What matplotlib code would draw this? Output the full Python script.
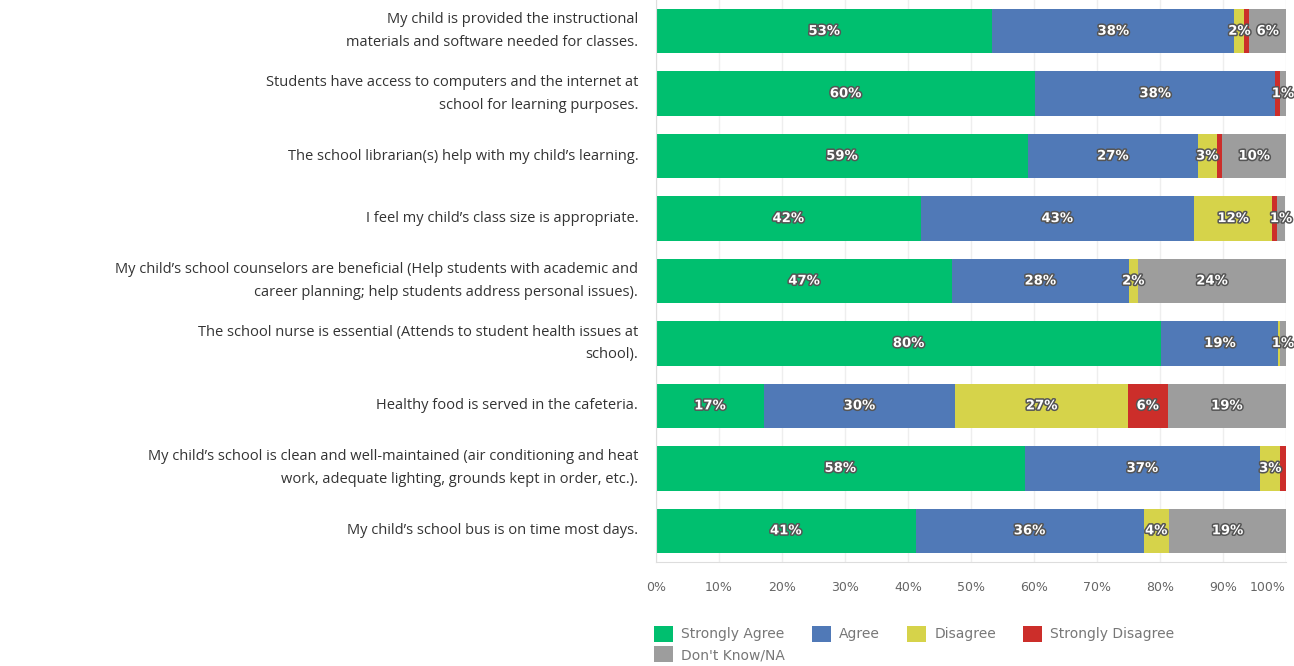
import matplotlib
matplotlib.use('Agg')
import matplotlib.pyplot as plt
import matplotlib.patheffects as pe
from matplotlib.patches import Patch

questions = [
    'My child is provided the instructional\nmaterials and software needed for classes.',
    'Students have access to computers and the internet at\nschool for learning purposes.',
    'The school librarian(s) help with my child\u2019s learning.',
    'I feel my child\u2019s class size is appropriate.',
    'My child\u2019s school counselors are beneficial (Help students with academic and\ncareer planning; help students address personal issues).',
    'The school nurse is essential (Attends to student health issues at\nschool).',
    'Healthy food is served in the cafeteria.',
    'My child\u2019s school is clean and well-maintained (air conditioning and heat\nwork, adequate lighting, grounds kept in order, etc.).',
    'My child\u2019s school bus is on time most days.',
]

categories = ['Strongly Agree', 'Agree', 'Disagree', 'Strongly Disagree', 'Don\'t Know/NA']

strongly_agree = [53.4, 60.2, 59.0, 42.0, 47.0, 80.2, 17.1, 58.5, 41.2]
agree = [38.4, 38.1, 27.0, 43.4, 28.0, 18.6, 30.4, 37.4, 36.2]
disagree = [1.6, 0.0, 3.0, 12.4, 1.5, 0.2, 27.4, 3.2, 4.0]
strongly_disagree = [0.8, 0.7, 0.9, 0.7, 0.0, 0.0, 6.3, 0.9, 0.0]
dont_know = [5.8, 1.0, 10.1, 1.4, 23.5, 1.0, 18.8, 0.0, 18.6]

colors = ['#00bf6f', '#5079b7', '#d6d34a', '#cc2e2a', '#9d9d9d']

ticks = list(range(0, 101, 10))
tick_labels = ['{}%'.format(t) for t in ticks]

series = [strongly_agree, agree, disagree, strongly_disagree, dont_know]

fig = plt.figure(figsize=(12.94, 6.66), dpi=100)
ax = fig.add_axes([656 / 1294, 104 / 666, 630 / 1294, 562 / 666])

y = list(range(len(questions)))
left = [0.0] * len(questions)
for vals, col, name in zip(series, colors, categories):
    ax.barh(y, vals, left=left, height=0.71, color=col, label=name, zorder=2)
    for i, v in enumerate(vals):
        if v >= 1.0:
            ax.text(left[i] + v / 2, i, '{}%'.format(round(v)), ha='center', va='center',
                    fontsize=9.5, color='white', fontweight='bold', zorder=3,
                    path_effects=[pe.withStroke(linewidth=2.2, foreground='#555555')])
    left = [l + v for l, v in zip(left, vals)]

ax.set_xlim(0, 100)
ax.set_ylim(len(questions) - 0.5, -0.5)
ax.set_xticks(ticks)
ax.set_xticklabels(tick_labels, fontsize=9, color='#666666')
ax.get_xticklabels()[-1].set_ha('right')
ax.set_yticks([])
ax.tick_params(axis='x', length=0, pad=14)
ax.grid(axis='x', color='#eeeeee', linewidth=1, zorder=0)
for s in ['top', 'right']:
    ax.spines[s].set_visible(False)
ax.spines['left'].set_color('#dddddd')
ax.spines['bottom'].set_color('#dddddd')

for i, q in enumerate(questions):
    ax.text(-0.028, i, q, transform=ax.get_yaxis_transform(), ha='right', va='center',
            fontsize=10.5, color='#333333', family='Open Sans', linespacing=1.7)

handles = [Patch(facecolor=c, edgecolor='none', label=n) for c, n in zip(colors, categories)]
order = [0, 4, 1, 2, 3]
fig.legend([handles[k] for k in order], [categories[k] for k in order],
           loc='upper left', bbox_to_anchor=(641 / 1294, 1 - 613 / 666), ncol=4,
           frameon=False, fontsize=10, labelcolor='#777777', handlelength=1.4,
           handleheight=1.4, columnspacing=1.9, handletextpad=0.6, labelspacing=0.35)

fig.savefig('out.png', dpi=100)
